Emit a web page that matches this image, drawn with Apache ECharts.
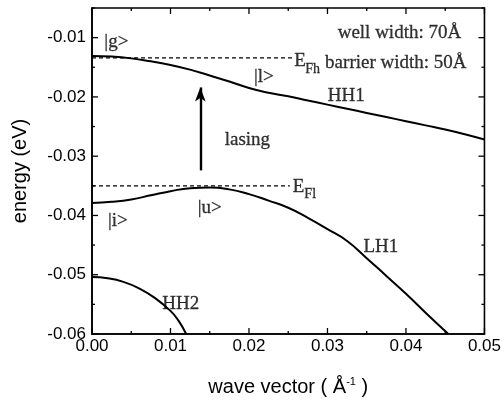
<!DOCTYPE html>
<html>
<head>
<meta charset="utf-8">
<script src="https://cdn.jsdelivr.net/npm/echarts@6/dist/echarts.min.js"></script>
<style>
  html, body { margin: 0; padding: 0; background: #fff; }
  #main { width: 504px; height: 407px; }
</style>
</head>
<body>
<div id="main"></div>
<script>
// wave vector (1/A) and energies (eV)
var hh1K = [0, 0.0025, 0.005, 0.0075, 0.01, 0.0125, 0.015, 0.0175, 0.02, 0.0225, 0.025, 0.0275, 0.03, 0.0325, 0.035, 0.0375, 0.04, 0.0425, 0.045, 0.0475, 0.05];
var hh1E = [-0.0131, -0.0132, -0.0135, -0.0140, -0.0146, -0.0154, -0.0164, -0.0174, -0.0185, -0.0193, -0.0199, -0.0206, -0.0213, -0.0220, -0.0227, -0.0234, -0.0241, -0.0248, -0.0255, -0.0263, -0.0272];

var lh1K = [0, 0.0025, 0.005, 0.0075, 0.01, 0.0125, 0.015, 0.0175, 0.02, 0.0225, 0.025, 0.0275, 0.03, 0.0325, 0.035, 0.0375, 0.04, 0.0425, 0.0454];
var lh1E = [-0.0379, -0.0377, -0.0373, -0.0366, -0.0359, -0.0354, -0.0353, -0.0356, -0.0364, -0.0375, -0.0387, -0.0404, -0.0423, -0.0443, -0.0472, -0.0502, -0.0532, -0.0564, -0.0600];

var hh2K = [0, 0.002, 0.004, 0.006, 0.008, 0.01, 0.011, 0.012];
var hh2E = [-0.0504, -0.0506, -0.0512, -0.0523, -0.0539, -0.0561, -0.0577, -0.0600];

var efhLine = [[0, -0.0134], [0.0255, -0.0134]];
var eflLine = [[0, -0.0350], [0.0252, -0.0350]];
var lasingArrow = [[0.0138, -0.0324], [0.0138, -0.0184]];

var xTicks = { min: 0, max: 0.05, step: 0.01 };
var yTicks = { min: -0.06, max: -0.005, step: 0.01 };

// text notes: [k, E, text, size, align]
var notes = [
    [0.0031, -0.0107, '|g>', 19, 'center'],
    [0.0219, -0.0167, '|l>', 19, 'center'],
    [0.0324, -0.0198, 'HH1', 19, 'center'],
    [0.0198, -0.0272, 'lasing', 19, 'center'],
    [0.0265, -0.0139, 'E', 19, 'center'],
    [0.0281, -0.0153, 'Fh', 14, 'center'],
    [0.0263, -0.0352, 'E', 19, 'center'],
    [0.0278, -0.0365, 'Fl', 14, 'center'],
    [0.0033, -0.0410, '|i>', 19, 'center'],
    [0.0150, -0.0387, '|u>', 19, 'center'],
    [0.0368, -0.0454, 'LH1', 19, 'center'],
    [0.0113, -0.0550, 'HH2', 19, 'center'],
    [0.0313, -0.0093, 'well width: 70Å', 19, 'left'],
    [0.0297, -0.0143, 'barrier width: 50Å', 19, 'left']
];

function pairs(k, e) {
    var out = [];
    for (var i = 0; i < k.length; i++) out.push([k[i], e[i]]);
    return out;
}

var serif = 'Liberation Serif';
var sans = 'Liberation Sans';

var myChart = echarts.init(document.getElementById('main'));
var option = {
    animation: false,
    grid: { left: 92, right: 19, top: 8, bottom: 73, show: true, borderColor: '#000', borderWidth: 1.6 },
    xAxis: {
        type: 'value', min: xTicks.min, max: xTicks.max, interval: xTicks.step,
        name: 'wave vector ( Å{sup|-1} )', nameLocation: 'middle', nameGap: 42,
        nameTextStyle: { fontFamily: sans, fontSize: 20, color: '#000',
            rich: { sup: { fontFamily: sans, fontSize: 11, color: '#000', padding: [0, 0, 12, 0] } } },
        axisLine: { show: true, lineStyle: { color: '#000', width: 1.6 } },
        axisTick: { show: false },
        splitLine: { show: false },
        axisLabel: { fontFamily: sans, fontSize: 17, color: '#000', margin: 4,
            formatter: function (v) { return v.toFixed(2); } }
    },
    yAxis: {
        type: 'value', min: yTicks.min, max: yTicks.max, interval: yTicks.step,
        name: 'energy (eV)', nameLocation: 'middle', nameGap: 62,
        nameTextStyle: { fontFamily: sans, fontSize: 20, color: '#000' },
        axisLine: { show: true, lineStyle: { color: '#000', width: 1.6 } },
        axisTick: { show: false },
        splitLine: { show: false },
        axisLabel: { fontFamily: sans, fontSize: 17, color: '#000', margin: 6, showMaxLabel: false,
            formatter: function (v) { return v.toFixed(2); } }
    },
    series: [{
        name: 'HH1', type: 'line', smooth: true, symbol: 'none',
        lineStyle: { color: '#000', width: 2 }, data: pairs(hh1K, hh1E)
    }, {
        name: 'LH1', type: 'line', smooth: true, symbol: 'none',
        lineStyle: { color: '#000', width: 2 }, data: pairs(lh1K, lh1E)
    }, {
        name: 'HH2', type: 'line', smooth: true, symbol: 'none',
        lineStyle: { color: '#000', width: 2 }, data: pairs(hh2K, hh2E)
    }, {
        name: 'EFh', type: 'line', symbol: 'none',
        lineStyle: { color: '#000', width: 1.2, type: [4, 3] }, data: efhLine
    }, {
        name: 'EFl', type: 'line', symbol: 'none',
        lineStyle: { color: '#000', width: 1.2, type: [4, 3] }, data: eflLine
    }, {
        name: 'arrow', type: 'line', symbol: 'none', data: [],
        markLine: {
            silent: true, symbol: ['none', 'arrow'], symbolSize: [8, 14],
            label: { show: false },
            lineStyle: { color: '#000', width: 2.4, type: 'solid' },
            data: [[{ coord: lasingArrow[0] }, { coord: lasingArrow[1] }]]
        }
    }, {
        name: 'notes', type: 'scatter', symbolSize: 0, silent: true,
        data: notes.map(function (n) {
            return {
                value: [n[0], n[1]],
                label: {
                    show: true, position: 'inside', formatter: n[2], align: n[4],
                    fontFamily: serif, fontSize: n[3], color: '#000',
                    textBorderColor: '#000', textBorderWidth: 0.3
                }
            };
        })
    }]
};
myChart.setOption(option);

// inward ticks on all four sides, placed through the axis scales
function tickMarks() {
    var els = [];
    var lo = myChart.convertToPixel({ gridIndex: 0 }, [xTicks.min, yTicks.min]);
    var hi = myChart.convertToPixel({ gridIndex: 0 }, [xTicks.max, yTicks.max]);
    var half = xTicks.step / 2, i, v, len, p;
    for (i = 0; xTicks.min + i * half <= xTicks.max + 1e-9; i++) {
        v = xTicks.min + i * half;
        len = i % 2 === 0 ? 6 : 3;
        p = myChart.convertToPixel({ gridIndex: 0 }, [v, yTicks.min])[0];
        els.push({ type: 'line', shape: { x1: p, y1: lo[1], x2: p, y2: lo[1] - len }, style: { stroke: '#000', lineWidth: 1.3 }, z: 100 });
        els.push({ type: 'line', shape: { x1: p, y1: hi[1], x2: p, y2: hi[1] + len }, style: { stroke: '#000', lineWidth: 1.3 }, z: 100 });
    }
    half = yTicks.step / 2;
    for (i = 0; yTicks.min + i * half <= yTicks.max + 1e-9; i++) {
        v = yTicks.min + i * half;
        len = i % 2 === 0 ? 6 : 3;
        p = myChart.convertToPixel({ gridIndex: 0 }, [xTicks.min, v])[1];
        els.push({ type: 'line', shape: { x1: lo[0], y1: p, x2: lo[0] + len, y2: p }, style: { stroke: '#000', lineWidth: 1.3 }, z: 100 });
        els.push({ type: 'line', shape: { x1: hi[0], y1: p, x2: hi[0] - len, y2: p }, style: { stroke: '#000', lineWidth: 1.3 }, z: 100 });
    }
    return els;
}
myChart.setOption({ graphic: { elements: tickMarks() } });
</script>
</body>
</html>
